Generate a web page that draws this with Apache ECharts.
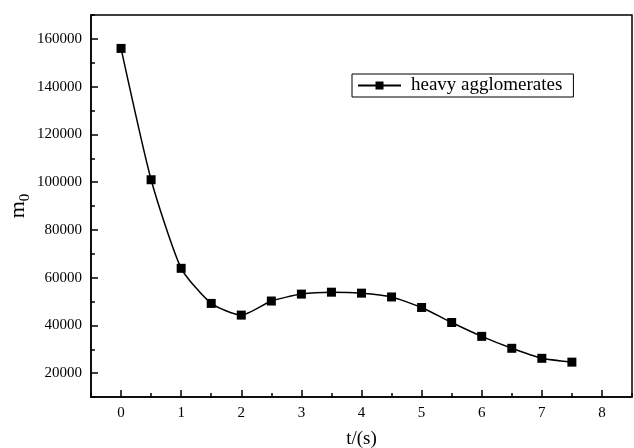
<!DOCTYPE html>
<html>
<head>
<meta charset="utf-8">
<script src="https://cdn.jsdelivr.net/npm/echarts@6/dist/echarts.min.js"></script>
<style>
  html, body { margin: 0; padding: 0; background: #fff; }
  #chart { width: 634px; height: 448px; }
</style>
</head>
<body>
<div id="chart"></div>
<script>
// Time points (s) and zeroth moment of the heavy agglomerates
const times = [0, 0.5, 1, 1.5, 2, 2.5, 3, 3.5, 4, 4.5, 5, 5.5, 6, 6.5, 7, 7.5];
const m0Values = [156000, 101000, 63900, 49200, 44300, 50200, 53100, 53900, 53500, 51900, 47500, 41200, 35400, 30400, 26200, 24600];
const seriesName = 'heavy agglomerates';

// Axis ticks and labels
const xMajorTicks = [0, 1, 2, 3, 4, 5, 6, 7, 8];
const xMinorTicks = [-0.5, 0.5, 1.5, 2.5, 3.5, 4.5, 5.5, 6.5, 7.5, 8.5];
const yMajorTicks = [20000, 40000, 60000, 80000, 100000, 120000, 140000, 160000];
const yMinorTicks = [10000, 30000, 50000, 70000, 90000, 110000, 130000, 150000, 170000];

const serif = '"Liberation Serif", "DejaVu Serif", serif';
const chart = echarts.init(document.getElementById('chart'));

const plain = v => String(v);
const xBase = { type: 'value', min: -0.5, max: 8.5, splitLine: { show: false } };
const yBase = { type: 'value', min: 10000, max: 170000, splitLine: { show: false } };

chart.setOption({
  animation: false,
  backgroundColor: '#fff',
  grid: {
    left: 91, top: 15, right: 2, bottom: 51,
    outerBoundsMode: 'none',
    containLabel: false,
    show: true, borderColor: '#000', borderWidth: 1.5, backgroundColor: 'transparent'
  },
  legend: {
    data: [seriesName],
    left: 352, top: 74,
    orient: 'horizontal',
    itemWidth: 43, itemHeight: 10,
    padding: [2, 11, 2, 5],
    itemGap: 0,
    borderColor: '#000', borderWidth: 1,
    backgroundColor: '#fff',
    textStyle: { fontFamily: serif, fontSize: 19, color: '#000', padding: [0, 0, 0, 5] }
  },
  xAxis: [
    Object.assign({}, xBase, {
      position: 'bottom',
      name: 't/(s)', nameLocation: 'middle', nameGap: 33, nameMoveOverlap: false,
      nameTextStyle: { fontFamily: serif, fontSize: 19, color: '#000' },
      axisLine: { show: true, onZero: false, lineStyle: { color: '#000', width: 1.5 } },
      axisTick: { show: true, inside: true, length: 7, customValues: xMajorTicks, lineStyle: { color: '#000', width: 1.5 } },
      axisLabel: { show: true, customValues: xMajorTicks, formatter: plain, margin: 9, fontFamily: serif, fontSize: 15, color: '#000' }
    }),
    Object.assign({}, xBase, {
      position: 'bottom',
      axisLine: { show: false, onZero: false },
      axisTick: { show: true, inside: true, length: 4, customValues: xMinorTicks, lineStyle: { color: '#000', width: 1.5 } },
      axisLabel: { show: false }
    })
  ],
  yAxis: [
    Object.assign({}, yBase, {
      position: 'left',
      name: '{m|m}{s|0}', nameLocation: 'middle', nameGap: 60, nameRotate: 90, nameMoveOverlap: false,
      nameTextStyle: {
        color: '#000',
        rich: {
          m: { fontFamily: serif, fontSize: 22, lineHeight: 24, color: '#000', verticalAlign: 'top' },
          s: { fontFamily: serif, fontSize: 15, lineHeight: 15, color: '#000', verticalAlign: 'top', padding: [11, 0, 0, 0] }
        }
      },
      axisLine: { show: true, onZero: false, lineStyle: { color: '#000', width: 1.5 } },
      axisTick: { show: true, inside: true, length: 7, customValues: yMajorTicks, lineStyle: { color: '#000', width: 1.5 } },
      axisLabel: { show: true, customValues: yMajorTicks, formatter: plain, margin: 9, fontFamily: serif, fontSize: 15, color: '#000' }
    }),
    Object.assign({}, yBase, {
      position: 'left',
      axisLine: { show: false, onZero: false },
      axisTick: { show: true, inside: true, length: 4, customValues: yMinorTicks, lineStyle: { color: '#000', width: 1.5 } },
      axisLabel: { show: false }
    })
  ],
  series: [{
    name: seriesName,
    type: 'line',
    xAxisIndex: 0,
    yAxisIndex: 0,
    data: times.map((t, i) => [t, m0Values[i]]),
    smooth: 0.2,
    symbol: 'rect',
    symbolSize: 9,
    showAllSymbol: true,
    itemStyle: { color: '#000' },
    lineStyle: { color: '#000', width: 1.5 }
  }]
});
</script>
</body>
</html>
